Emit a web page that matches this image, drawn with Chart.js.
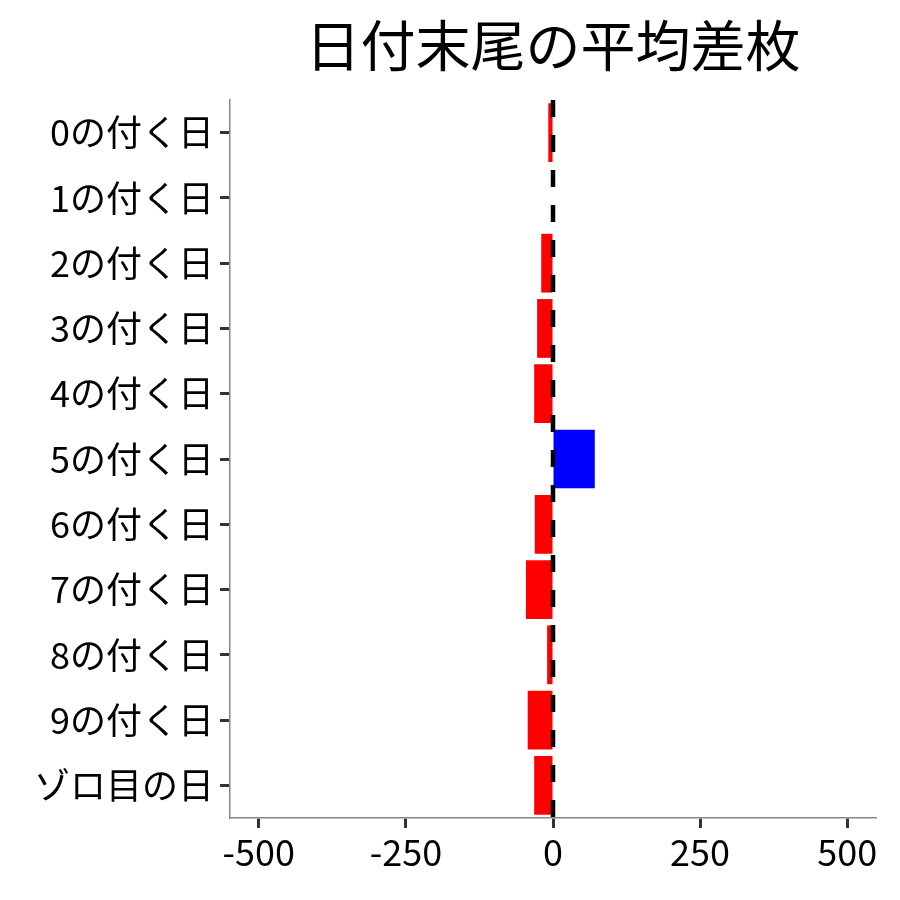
<!DOCTYPE html>
<html>
<head>
<meta charset="utf-8">
<script src="https://cdn.jsdelivr.net/npm/chart.js@4/dist/chart.umd.min.js"></script>
<style>
  html, body { margin: 0; padding: 0; background: #fff; }
  #wrap { width: 900px; height: 900px; }
</style>
</head>
<body>
<div id="wrap"><canvas id="myChart"></canvas></div>
<script>
// data
const categories = ['0の付く日', '1の付く日', '2の付く日', '3の付く日', '4の付く日',
    '5の付く日', '6の付く日', '7の付く日', '8の付く日', '9の付く日', 'ゾロ目の日'];
const avgDiff = [-8, 0, -20, -27, -32, 71, -31, -46, -10, -43, -32];
const xTicks = [-500, -250, 0, 250, 500];
const titleText = '日付末尾の平均差枚';

const FONT = "'Noto Sans CJK JP', 'Noto Sans', sans-serif";

// dashed vertical line at x = 0, plus title centred over the plot panel
const extras = {
    id: 'extras',
    afterDatasetsDraw(chart) {
        const ctx = chart.ctx;
        const area = chart.chartArea;
        const x = chart.scales.x.getPixelForValue(0);
        ctx.save();
        ctx.strokeStyle = '#000';
        ctx.lineWidth = 4.5;
        ctx.setLineDash([17, 18]);
        ctx.beginPath();
        ctx.moveTo(x, area.top);
        ctx.lineTo(x, area.bottom + 12);
        ctx.stroke();
        ctx.restore();
    },
    afterDraw(chart) {
        const ctx = chart.ctx;
        const area = chart.chartArea;
        ctx.save();
        ctx.fillStyle = '#000';
        ctx.font = '55px ' + FONT;
        ctx.textAlign = 'center';
        ctx.textBaseline = 'middle';
        ctx.fillText(titleText, (area.left + area.right) / 2, 45);
        ctx.restore();
    }
};

const ctx = document.getElementById('myChart').getContext('2d');
const myChart = new Chart(ctx, {
    type: 'bar',
    data: {
        labels: categories,
        datasets: [{
            data: avgDiff,
            backgroundColor: avgDiff.map(v => v >= 0 ? '#0000FF' : '#FF0000'),
            borderWidth: 0,
            categoryPercentage: 1.0,
            barPercentage: 0.9
        }]
    },
    options: {
        indexAxis: 'y',
        responsive: true,
        maintainAspectRatio: false,
        animation: false,
        layout: { padding: { left: 0, right: 24, top: 100, bottom: 0 } },
        plugins: {
            legend: { display: false },
            tooltip: { enabled: false },
            title: { display: false }
        },
        scales: {
            x: {
                type: 'linear',
                min: -549,
                max: 549,
                afterBuildTicks: s => { s.ticks = xTicks.map(v => ({ value: v })); },
                afterFit: s => { s.height = 82; },
                grid: {
                    drawOnChartArea: false,
                    drawTicks: true,
                    tickLength: 10,
                    tickColor: '#333',
                    tickWidth: 3
                },
                border: { display: true, color: '#888', width: 1.5 },
                ticks: {
                    color: '#000',
                    padding: 3,
                    maxRotation: 0,
                    font: { family: FONT, size: 36 }
                }
            },
            y: {
                type: 'category',
                offset: true,
                afterFit: s => { s.width = 230; },
                grid: {
                    offset: false,
                    drawOnChartArea: false,
                    drawTicks: true,
                    tickLength: 10,
                    tickColor: '#333',
                    tickWidth: 3
                },
                border: { display: true, color: '#888', width: 1.5 },
                ticks: {
                    color: '#000',
                    padding: 6,
                    font: { family: FONT, size: 36 }
                }
            }
        }
    },
    plugins: [extras]
});
</script>
</body>
</html>
